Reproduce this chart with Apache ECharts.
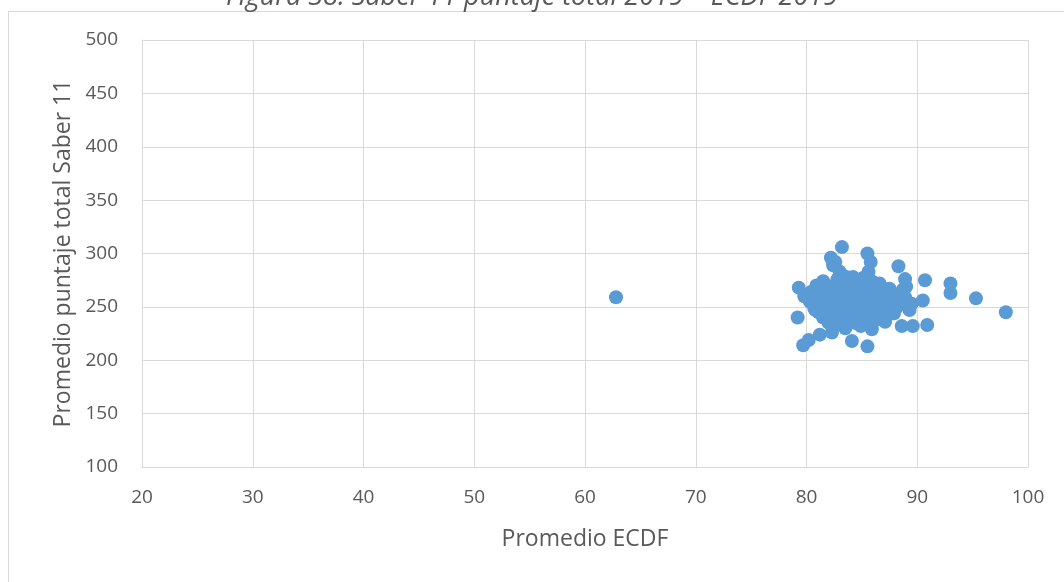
<!DOCTYPE html>
<html>
<head>
<meta charset="utf-8">
<script src="https://cdn.jsdelivr.net/npm/echarts@6/dist/echarts.min.js"></script>
<style>
html,body{margin:0;padding:0;background:#fff;}
#chart{width:1064px;height:582px;}
</style>
</head>
<body>
<div id="chart"></div>
<script>
const titleText = "Figura 38. Saber 11 puntaje total 2019 – ECDF 2019";
const xAxisName = "Promedio ECDF";
const yAxisName = "Promedio puntaje total Saber 11";

// Promedio ECDF (x) values
const ecdf = [
  62.8,
  83.2, 82.2, 82.6, 82.4, 85.5, 85.8, 88.3, 88.9, 89.0, 90.7, 93.0, 93.0, 95.3, 98.0,
  90.5, 89.5, 89.3, 90.9, 89.6, 88.6, 87.1, 85.9, 85.5, 84.1, 82.3, 81.2, 80.2, 79.7,
  79.2, 79.3, 79.8,
  81.5, 82.8, 83.6, 84.4, 85.1, 85.9, 86.6,
  80.9, 81.7, 82.3, 83.0, 83.8, 84.6, 85.3, 86.0, 86.8, 87.5,
  80.4, 81.2, 81.9, 82.5, 83.3, 84.0, 84.8, 85.5, 86.2, 87.0, 87.8,
  80.6, 81.4, 82.1, 82.8, 83.5, 84.2, 84.9, 85.7, 86.4, 87.2, 88.0,
  80.3, 81.0, 81.8, 82.4, 83.1, 83.9, 84.6, 85.3, 86.1, 86.8, 87.6, 88.3,
  80.7, 81.5, 82.2, 82.9, 83.6, 84.3, 85.0, 85.8, 86.5, 87.3, 88.1,
  81.1, 81.9, 82.6, 83.4, 84.1, 84.8, 85.5, 86.3, 87.0, 87.8,
  81.5, 82.3, 83.0, 83.8, 84.5, 85.2, 86.0, 86.7,
  82.0, 82.8, 83.6, 84.4, 85.3,
  83.5, 84.9, 82.1, 86.3, 81.6, 84.2, 83.0, 85.6, 87.4, 80.8,
  88.7, 88.9, 87.9, 83.9, 82.6, 86.9, 84.7, 81.3, 85.0, 83.3
];
// Promedio puntaje total Saber 11 (y) values
const saber11 = [
  259,
  306, 296, 292, 289, 300, 292, 288, 276, 269, 275, 272, 263, 258, 245,
  256, 253, 247, 233, 232, 232, 236, 229, 213, 218, 226, 224, 219, 214,
  240, 268, 260,
  274, 276, 278, 275, 277, 274, 272,
  270, 271, 269, 272, 270, 271, 269, 270, 268, 267,
  264, 266, 265, 263, 266, 264, 266, 265, 263, 264, 262,
  259, 261, 260, 258, 261, 259, 260, 258, 261, 259, 258,
  255, 254, 256, 255, 253, 256, 254, 255, 256, 253, 254, 252,
  249, 251, 250, 248, 251, 249, 250, 251, 248, 250, 249,
  245, 246, 244, 246, 245, 243, 246, 244, 245, 244,
  240, 241, 239, 241, 240, 239, 241, 240,
  235, 234, 236, 235, 237,
  230, 232, 238, 238, 243, 278, 283, 283, 257, 247,
  266, 259, 244, 266, 252, 253, 257, 262, 239, 247
];

const points = ecdf.map((x, i) => [x, saber11[i]]);

const chart = echarts.init(document.getElementById('chart'));
const gridColor = '#d9d9d9';
const textColor = '#595959';
const font = 'Open Sans';

chart.setOption({
  animation: false,
  backgroundColor: '#ffffff',
  title: {
    text: titleText,
    left: 'center',
    top: -21,
    textStyle: {
      fontFamily: font,
      fontStyle: 'italic',
      fontWeight: 'normal',
      fontSize: 27,
      color: textColor
    }
  },
  graphic: [{
    type: 'rect',
    shape: { x: 8.5, y: 11.5, width: 1070, height: 600 },
    style: { fill: 'none', stroke: gridColor, lineWidth: 1 },
    silent: true,
    z: -1
  }],
  grid: { left: 142, right: 36, top: 40, bottom: 115 },
  xAxis: {
    type: 'value',
    min: 20, max: 100, interval: 10,
    name: xAxisName,
    nameLocation: 'middle',
    nameGap: 61,
    nameTextStyle: { fontFamily: font, fontSize: 23, color: textColor },
    axisLine: { show: true, lineStyle: { color: gridColor } },
    axisTick: { show: false },
    axisLabel: { fontFamily: font, fontSize: 19, color: textColor, margin: 21 },
    splitLine: { show: true, lineStyle: { color: gridColor, width: 1 } }
  },
  yAxis: {
    type: 'value',
    min: 100, max: 500, interval: 50,
    name: yAxisName,
    nameLocation: 'middle',
    nameGap: 66,
    nameRotate: 90,
    nameTextStyle: { fontFamily: font, fontSize: 23, color: textColor },
    axisLine: { show: true, lineStyle: { color: gridColor } },
    axisTick: { show: false },
    axisLabel: { fontFamily: font, fontSize: 19, color: textColor, margin: 24 },
    splitLine: { show: true, lineStyle: { color: gridColor, width: 1 } }
  },
  series: [{
    type: 'scatter',
    data: points,
    symbol: 'circle',
    symbolSize: 14,
    itemStyle: { color: '#5b9bd5', opacity: 1 }
  }]
});
</script>
</body>
</html>
